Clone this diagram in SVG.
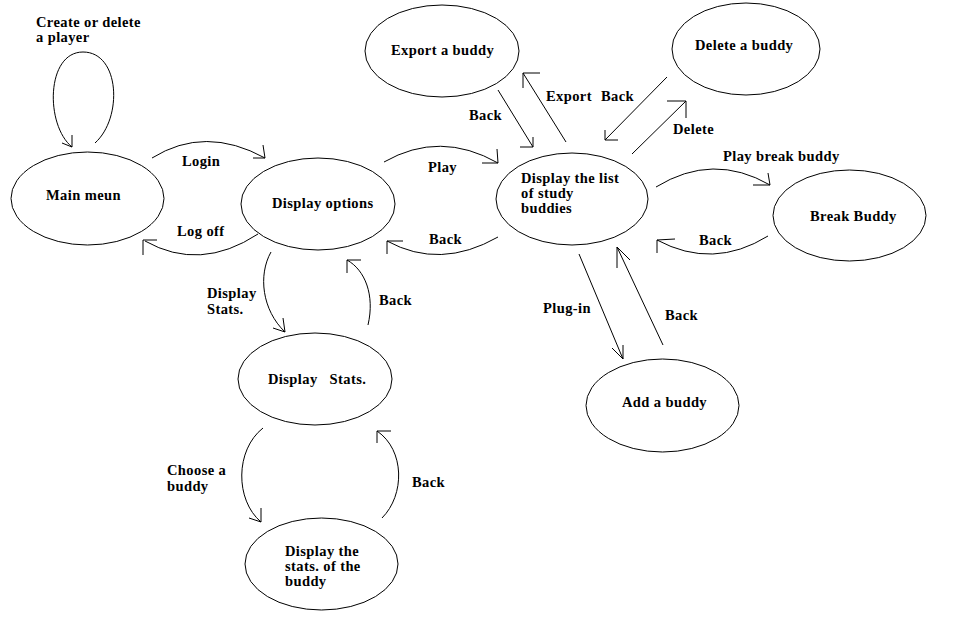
<svg xmlns="http://www.w3.org/2000/svg" width="958" height="617" viewBox="0 0 958 617">
<style>
.n{fill:#fff;stroke:#000;stroke-width:1}
.c path{fill:none;stroke:#000;stroke-width:1}
text{font-family:"Liberation Serif","Times New Roman",serif;font-weight:bold;font-size:14.5px;letter-spacing:0.4px;fill:#000}
</style>
<rect width="958" height="617" fill="#fff"/>
<g id="connectors" class="c">
<path d="M95,143 C123,118 120,52 83,52 C46,52 45,125 72,147 M62,143 L72,147 L72,135"/>
<path d="M152,158 Q205,125 265,158 M253,158 L265,158 L263,145"/>
<path d="M258,234 Q200,272 145,241 M157,240 L143,240 L143,255"/>
<path d="M384,162 Q440,130 498,163 M482,163 L498,163 L497,149"/>
<path d="M498,237 Q440,270 387,241 M403,241 L387,241 L387,254"/>
<path d="M566,142 L523,73 M540,73 L523,73 L523,88"/>
<path d="M498,90 L533,147 M520,147 L533,147 L533,137"/>
<path d="M667,77 L605,140 M618,140 L605,140 L605,130"/>
<path d="M632,154 L686,101 M667,101 L686,101 L686,118"/>
<path d="M656,187 Q713,152 770,185 M753,185 L770,185 L768,173"/>
<path d="M768,236 Q713,270 657,240 M675,239 L657,240 L657,253"/>
<path d="M579,254 L623,359 M612,348 L623,359 L623,345"/>
<path d="M663,345 L617,247 M617,268 L617,247 L630,260"/>
<path d="M271,252 C258,275 262,310 285,332 M273,328 L285,332 L283,318"/>
<path d="M368,325 C375,295 365,270 347,260 M361,260 L347,260 L347,273"/>
<path d="M263,428 C235,450 235,500 261,522 M249,518 L261,522 L261,508"/>
<path d="M382,518 C405,495 405,450 377,431 M391,431 L377,431 L377,443"/>
</g>
<g id="labels">
<text x="36" y="27">Create or delete</text>
<text x="36" y="42">a player</text>
<text x="182" y="166">Login</text>
<text x="177" y="236">Log off</text>
<text x="469" y="120">Back</text>
<text x="546" y="101">Export</text>
<text x="601" y="101">Back</text>
<text x="673" y="134">Delete</text>
<text x="428" y="172">Play</text>
<text x="429" y="244">Back</text>
<text x="723" y="161">Play break buddy</text>
<text x="699" y="245">Back</text>
<text x="543" y="313">Plug-in</text>
<text x="665" y="320">Back</text>
<text x="207" y="298">Display</text>
<text x="207" y="314">Stats.</text>
<text x="379" y="305">Back</text>
<text x="167" y="475">Choose a</text>
<text x="167" y="491">buddy</text>
<text x="412" y="487">Back</text>
</g>
<g id="main-menu"><ellipse class="n" cx="87.5" cy="198.5" rx="76.5" ry="46.5"/><text x="46" y="200">Main meun</text></g>
<g id="display-options"><ellipse class="n" cx="318" cy="204" rx="77" ry="46"/><text x="272" y="208">Display options</text></g>
<g id="export-buddy"><ellipse class="n" cx="442" cy="51" rx="77" ry="46"/><text x="391" y="55">Export a buddy</text></g>
<g id="delete-buddy"><ellipse class="n" cx="746" cy="49" rx="74" ry="46"/><text x="695" y="50">Delete a buddy</text></g>
<g id="list-buddies"><ellipse class="n" cx="572" cy="199" rx="76" ry="46"/><text x="521" y="183">Display the list</text><text x="521" y="198">of study</text><text x="521" y="213">buddies</text></g>
<g id="break-buddy"><ellipse class="n" cx="849.5" cy="215.5" rx="76.5" ry="45.5"/><text x="810" y="221">Break Buddy</text></g>
<g id="add-buddy"><ellipse class="n" cx="662.5" cy="405.5" rx="76.5" ry="46.5"/><text x="622" y="407">Add a buddy</text></g>
<g id="display-stats"><ellipse class="n" cx="315" cy="379" rx="77" ry="46"/><text x="268" y="384" style="white-space:pre">Display   Stats.</text></g>
<g id="buddy-stats"><ellipse class="n" cx="321.5" cy="564" rx="76.5" ry="46"/><text x="285" y="556">Display the</text><text x="285" y="571">stats. of the</text><text x="285" y="586">buddy</text></g>
</svg>
